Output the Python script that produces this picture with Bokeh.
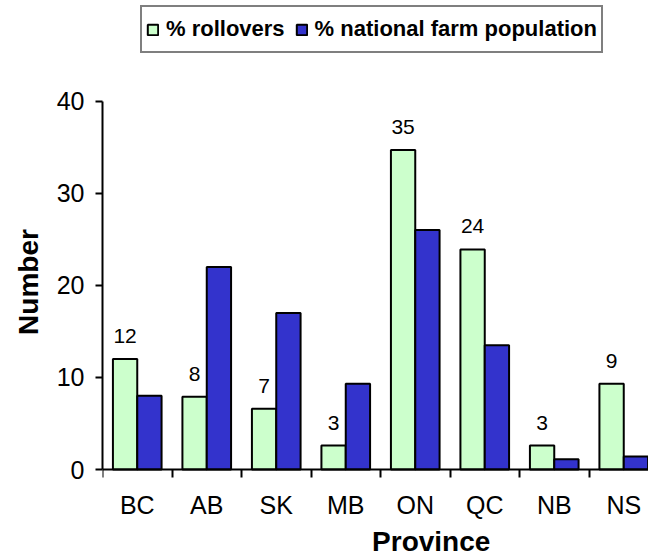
from bokeh.plotting import figure
from bokeh.models import (Range1d, FixedTicker, Legend, LegendItem, ColumnDataSource,
                          LabelSet, Label, Title)
from bokeh.transform import dodge
from bokeh.core.properties import value
from bokeh.embed import file_html
from bokeh.resources import INLINE

provinces = ["BC", "AB", "SK", "MB", "ON", "QC", "NB", "NS"]
rollovers = [12.0, 7.9, 6.6, 2.6, 34.7, 23.9, 2.6, 9.3]
farm_pop = [8.0, 22.0, 17.0, 9.3, 26.0, 13.5, 1.1, 1.4]
rollover_labels = ["12", "8", "7", "3", "35", "24", "3", "9"]
y_ticks = [0, 10, 20, 30, 40]
series_names = ["% rollovers", "% national farm population"]

FONT = "Liberation Sans"
centers = [i + 0.5 for i in range(len(provinces))]
bounds = [float(i) for i in range(len(provinces) + 1)]

src = ColumnDataSource(dict(x=centers, r=rollovers, f=farm_pop, lab=rollover_labels))

# layout: frame spans the whole height; y=0 sits at 469 px, y=40 at ~101 px
W, H = 648, 558
TOP, LEFT = 5, 102
ZERO_PX = 469
PX_PER_UNIT = 368.3 / 40
p = figure(width=W, height=H, output_backend="svg", toolbar_location=None,
           x_range=Range1d(0, (W - LEFT) / 69.5),
           y_range=Range1d(-(H - ZERO_PX) / PX_PER_UNIT, (ZERO_PX - TOP) / PX_PER_UNIT),
           min_border_left=LEFT, min_border_top=TOP, min_border_right=0,
           min_border_bottom=0)
p.outline_line_color = None
p.xgrid.visible = False
p.ygrid.visible = False

g = p.vbar(x=dodge("x", -0.175, range=p.x_range), top="r", width=0.35, source=src,
           fill_color="#CCFFCC", line_color="black", line_width=2)
b = p.vbar(x=dodge("x", 0.175, range=p.x_range), top="f", width=0.35, source=src,
           fill_color="#3333CC", line_color="black", line_width=2)

labels = LabelSet(x=dodge("x", -0.175, range=p.x_range), y="r", text="lab", source=src,
                  y_offset=16, text_align="center", text_baseline="alphabetic",
                  text_font=value(FONT), text_font_size=value("21px"),
                  text_color="black")
p.add_layout(labels)

# x axis, drawn at y = 0
xa = p.xaxis[0]
xa.fixed_location = 0
xa.ticker = FixedTicker(ticks=centers, minor_ticks=bounds)
xa.major_label_overrides = {c: n for c, n in zip(centers, provinces)}
xa.major_tick_out = 0
xa.major_tick_in = 0
xa.minor_tick_out = 8
xa.minor_tick_in = 0
xa.minor_tick_line_width = 2
xa.minor_tick_line_color = "black"
xa.axis_line_width = 2
xa.axis_line_color = "black"
xa.major_label_standoff = 13
xa.major_label_text_font = FONT
xa.major_label_text_font_size = "25px"
xa.major_label_text_color = "black"

# y axis
ya = p.yaxis[0]
ya.ticker = FixedTicker(ticks=y_ticks)
ya.bounds = (y_ticks[0], y_ticks[-1])
ya.minor_tick_out = 0
ya.minor_tick_in = 0
ya.major_tick_out = 7
ya.major_tick_in = 0
ya.major_tick_line_width = 2
ya.major_tick_line_color = "black"
ya.axis_line_width = 2
ya.axis_line_color = "black"
ya.major_label_standoff = 11
ya.major_label_text_font = FONT
ya.major_label_text_font_size = "25px"
ya.major_label_text_color = "black"

num = Title(text="Number", align="center", offset=-12, standoff=20,
            text_font=FONT, text_font_size="28px", text_font_style="bold",
            text_color="black")
p.add_layout(num, "left")

prov = Label(x=4.73, y=-(541 - ZERO_PX) / PX_PER_UNIT, text="Province",
             text_align="center", text_baseline="alphabetic",
             text_font=FONT, text_font_size="28px", text_font_style="bold",
             text_color="black")
p.add_layout(prov)

legend = Legend(items=[LegendItem(label=series_names[0], renderers=[g]),
                       LegendItem(label=series_names[1], renderers=[b])],
                orientation="horizontal", location=(38, H - 53))
legend.border_line_color = "black"
legend.border_line_width = 2
legend.background_fill_color = "white"
legend.background_fill_alpha = 1
legend.label_text_font = FONT
legend.label_text_font_style = "bold"
legend.label_text_font_size = "22px"
legend.label_text_color = "black"
legend.glyph_width = 13
legend.glyph_height = 13
legend.label_height = 36
legend.label_standoff = 7
legend.spacing = 10
legend.padding = 4
legend.margin = 0
p.add_layout(legend)

open("out.html", "w").write(file_html(p, INLINE))
